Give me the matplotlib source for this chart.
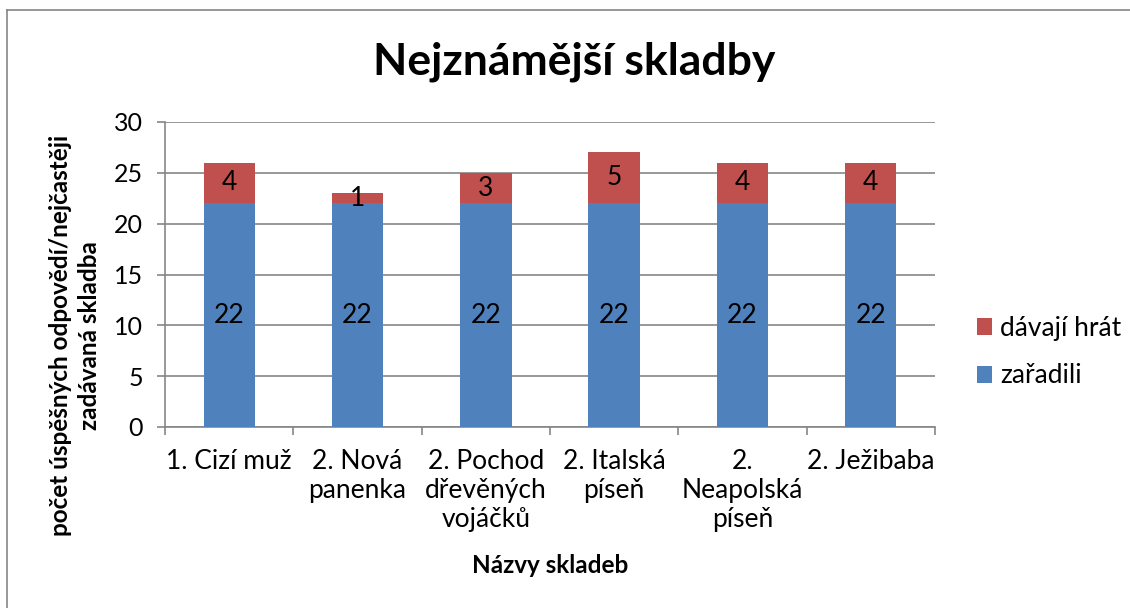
import matplotlib
matplotlib.use('Agg')
import matplotlib.pyplot as plt
from matplotlib.lines import Line2D
import numpy as np

plt.rcParams['font.family'] = ['Lato', 'DejaVu Sans']

categories = ["1. Cizí muž", "2. Nová\npanenka", "2. Pochod\ndřevěných\nvojáčků",
              "2. Italská\npíseň", "2.\nNeapolská\npíseň", "2. Ježibaba"]
zaradili = [22, 22, 22, 22, 22, 22]
davaji_hrat = [4, 1, 3, 5, 4, 4]
yticks = [0, 5, 10, 15, 20, 25, 30]

c_blue, c_red = '#4F81BD', '#C0504D'
grid_c = '#868686'

fig = plt.figure(figsize=(11.3, 6.08), dpi=100)
ax = fig.add_axes([165/1130, 1-427/608, 770/1130, 305/608])

x = np.arange(len(categories))
b1 = ax.bar(x, zaradili, width=0.4, color=c_blue, label='zařadili', zorder=3)
b2 = ax.bar(x, davaji_hrat, width=0.4, bottom=zaradili, color=c_red, label='dávají hrát', zorder=3)
ax.bar_label(b1, labels=[str(v) for v in zaradili], label_type='center', fontsize=19)
ax.bar_label(b2, labels=[str(v) for v in davaji_hrat], label_type='center', fontsize=19)

ax.set_xlim(-0.5, len(categories) - 0.5)
ax.set_ylim(0, 30)
ax.set_yticks(yticks)
ax.yaxis.grid(True, color=grid_c, linewidth=1.2, zorder=0)
ax.set_axisbelow(True)

ax.set_xticks(x)
ax.set_xticklabels(categories, fontsize=19, linespacing=1.2)
ax.set_xticks(np.arange(len(categories) + 1) - 0.5, minor=True)
ax.tick_params(axis='x', which='major', length=0, pad=16)
ax.tick_params(axis='x', which='minor', length=6, color=grid_c, width=1.2)
ax.tick_params(axis='y', length=6, color=grid_c, width=1.2, labelsize=18, pad=10)

for s in ['top', 'right']:
    ax.spines[s].set_visible(False)
for s in ['left', 'bottom']:
    ax.spines[s].set_color(grid_c)
    ax.spines[s].set_linewidth(1.2)

fig.text(574/1130, 1-62/608, 'Nejznámější skladby', fontsize=32, fontweight='bold',
         ha='center', va='center')
ax.set_xlabel('Názvy skladeb', fontsize=17.5, fontweight='bold')
ax.xaxis.set_label_coords(0.5, -0.415)
ax.set_ylabel('počet úspěšných odpovědí/nejčastěji\nzadávaná skladba', fontsize=17.5,
              fontweight='bold', linespacing=1.3)
ax.yaxis.set_label_coords(-0.083, 0.30)

handles = [b2, b1]
ax.legend(handles, ['dávají hrát', 'zařadili'], loc='center left',
          bbox_to_anchor=(1.03, 0.245), frameon=False, fontsize=19,
          handlelength=0.6, handleheight=0.6, handletextpad=0.3, labelspacing=0.85,
          borderaxespad=0.3)

# chart frame
fig.add_artist(Line2D([7/1130, 1], [1-10/608, 1-10/608], color='#868686', linewidth=1.2))
fig.add_artist(Line2D([7/1130, 7/1130], [0, 1-10/608], color='#868686', linewidth=1.2))

plt.savefig('out.png', dpi=100)
plt.close()
